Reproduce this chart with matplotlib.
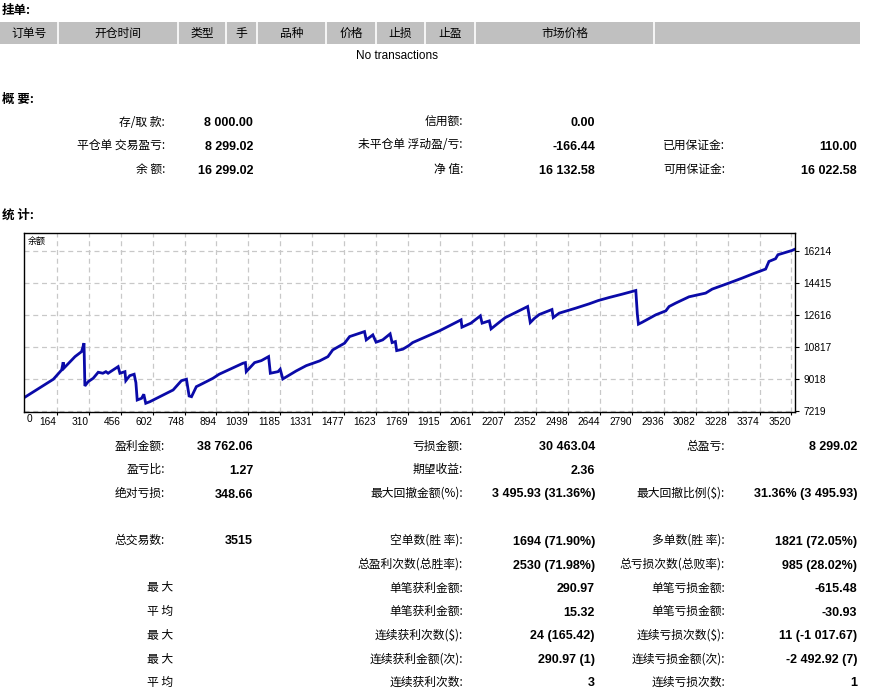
import matplotlib
matplotlib.use("Agg")
import matplotlib.pyplot as plt

W, H = 873, 692
CJK = ['Noto Sans CJK SC', 'DejaVu Sans']
NUM = ['Liberation Sans', 'DejaVu Sans']
plt.rcParams['font.family'] = CJK

# ---------------- data ----------------
order_headers = ["订单号", "开仓时间", "类型", "手", "品种", "价格", "止损", "止盈", "市场价格", ""]
no_orders_text = "No transactions"

summary_rows = [
    [("存/取 款:", "8 000.00"), ("信用额:", "0.00"), ("", "")],
    [("平仓单 交易盈亏:", "8 299.02"), ("未平仓单 浮动盈/亏:", "-166.44"), ("已用保证金:", "110.00")],
    [("余 额:", "16 299.02"), ("净 值:", "16 132.58"), ("可用保证金:", "16 022.58")],
]

stats_rows = [
    [("盈利金额:", "38 762.06"), ("亏损金额:", "30 463.04"), ("总盈亏:", "8 299.02")],
    [("盈亏比:", "1.27"), ("期望收益:", "2.36"), ("", "")],
    [("绝对亏损:", "348.66"), ("最大回撤金额(%):", "3 495.93 (31.36%)"), ("最大回撤比例($):", "31.36% (3 495.93)")],
    None,
    [("总交易数:", "3515"), ("空单数(胜 率):", "1694 (71.90%)"), ("多单数(胜 率):", "1821 (72.05%)")],
    [("", ""), ("总盈利次数(总胜率):", "2530 (71.98%)"), ("总亏损次数(总败率):", "985 (28.02%)")],
    [("最 大", ""), ("单笔获利金额:", "290.97"), ("单笔亏损金额:", "-615.48")],
    [("平 均", ""), ("单笔获利金额:", "15.32"), ("单笔亏损金额:", "-30.93")],
    [("最 大", ""), ("连续获利次数($):", "24 (165.42)"), ("连续亏损次数($):", "11 (-1 017.67)")],
    [("最 大", ""), ("连续获利金额(次):", "290.97 (1)"), ("连续亏损金额(次):", "-2 492.92 (7)")],
    [("平 均", ""), ("连续获利次数:", "3"), ("连续亏损次数:", "1")],
]

trade_no = [15, 149, 187, 194, 197, 248, 278, 289, 293, 308, 331, 354, 375, 389, 399,
            445, 453, 476, 480, 498, 518, 526, 532, 552, 562, 571, 590, 696, 734, 757,
            769, 780, 802, 818, 878, 906, 1015, 1026, 1030, 1068, 1099, 1132, 1140, 1175,
            1185, 1197, 1258, 1304, 1365, 1403, 1425, 1479, 1502, 1570, 1578, 1608, 1623,
            1653, 1687, 1696, 1711, 1717, 1745, 1772, 1790, 1912, 2011, 2015, 2056, 2099,
            2107, 2140, 2148, 2186, 2213, 2254, 2315, 2327, 2345, 2368, 2426, 2432, 2459,
            2535, 2596, 2638, 2687, 2748, 2809, 2816, 2821, 2839, 2900, 2946, 2961, 2991,
            3052, 3128, 3158, 3234, 3295, 3341, 3402, 3417, 3447, 3458, 3523, 3532]
balance = [7980, 9018, 9541, 9974, 9637, 10288, 10570, 11042, 8641, 8882, 9073, 9411,
           9355, 9444, 9355, 9726, 9355, 9444, 8939, 9220, 9299, 8827, 7854, 7949, 8174,
           7669, 7759, 8416, 8939, 9018, 8079, 8039, 8602, 8698, 9073, 9299, 9917, 9951,
           9445, 9951, 10064, 10289, 9355, 9444, 9580, 9035, 9484, 9782, 10047, 10288,
           10665, 11042, 11413, 11693, 11227, 11508, 11098, 11227, 11565, 11076, 11132,
           10626, 10705, 10907, 11076, 11733, 12352, 11941, 12166, 12576, 12166, 12295,
           11846, 12220, 12479, 12727, 13099, 12200, 12425, 12650, 12931, 12481, 12727,
           13010, 13251, 13437, 13605, 13797, 13999, 12672, 12110, 12222, 12633, 12857,
           13099, 13291, 13645, 13853, 14078, 14415, 14696, 14921, 15202, 15629, 15781,
           16006, 16248, 16299]

x_ticks = [164, 310, 456, 602, 748, 894, 1039, 1185, 1331, 1477, 1623, 1769, 1915, 2061,
           2207, 2352, 2498, 2644, 2790, 2936, 3082, 3228, 3374, 3520]
y_ticks = [7219, 9018, 10817, 12616, 14415, 16214]
chart_label = "余额"

# ---------------- figure ----------------
fig = plt.figure(figsize=(W / 100, H / 100), dpi=100)
fig.patch.set_facecolor('white')


def fx(x):
    return x / W


def fy(y):
    return 1 - y / H


def txt(x, y, s, ha='left', bold=False, size=8.5, family=CJK, color='black'):
    fig.text(fx(x), fy(y), s, ha=ha, va='center', fontsize=size,
             fontweight='bold' if bold else 'normal', family=family, color=color)


# Section: pending orders
txt(2, 10, "挂单:", bold=True, size=9)
bg = fig.add_axes([0, 0, 1, 1], zorder=-1)
bg.set_xlim(0, W)
bg.set_ylim(H, 0)
bg.axis('off')
bounds = [0, 58, 178, 226, 257, 326, 376, 425, 475, 654, 860]
bg.add_patch(plt.Rectangle((0, 22), 860, 22, facecolor='#c0c0c0', edgecolor='none'))
for b in bounds[1:-1]:
    bg.plot([b, b], [22, 44], color='white', lw=1.2)
for i, h in enumerate(order_headers):
    if h:
        txt((bounds[i] + bounds[i + 1]) / 2, 33, h, ha='center', size=8.5)
txt(397, 56, no_orders_text, ha='center', size=8.5, family=['Liberation Sans', 'DejaVu Sans'])

# Section: summary
txt(2, 99, "概 要:", bold=True, size=9)
label_x = [165, 463, 725]
value_x = [253, 595, 857]
NUM_DY = 1.5
for r, row in enumerate(summary_rows):
    y = [122, 145, 169][r]
    for c, (lab, val) in enumerate(row):
        if lab:
            txt(label_x[c], y, lab, ha='right')
        if val:
            txt(value_x[c], y + NUM_DY, val, ha='right', bold=True, size=9, family=NUM)

# Section: statistics
txt(2, 215, "统 计:", bold=True, size=9)

# Chart
ax = fig.add_axes([fx(24), fy(412), (795 - 24) / W, (412 - 233) / H])
ax.plot(trade_no, balance, color='#0a0aa8', lw=2.0, solid_joinstyle='miter')
ax.set_xlim(15, 3536)
ax.set_ylim(7180, 17226)
ax.set_xticks(x_ticks)
ax.set_xticklabels([str(v) for v in x_ticks], ha='right', fontsize=7.3,
                   family=['Liberation Sans', 'DejaVu Sans'])
ax.set_yticks(y_ticks)
ax.set_yticklabels([str(v) for v in y_ticks], fontsize=7.3,
                   family=['Liberation Sans', 'DejaVu Sans'])
ax.yaxis.tick_right()
ax.tick_params(axis='x', length=2, pad=1.5, direction='out')
ax.tick_params(axis='y', length=3, pad=3, direction='out')
ax.grid(True, color='#c8c8c8', linestyle=(0, (4, 3)), lw=0.9)
for s in ax.spines.values():
    s.set_color('black')
    s.set_linewidth(1.0)
ax.text(0.005, 0.955, chart_label, transform=ax.transAxes, fontsize=6.5, va='center', ha='left')
ax.text(0.003, -0.04, "0", transform=ax.transAxes, fontsize=7.3, va='center', ha='left',
        family=['Liberation Sans', 'DejaVu Sans'])

stat_y = [446, 469, 493, None, 540, 564, 588, 611, 635, 659, 682]
for row, y in zip(stats_rows, stat_y):
    if row is None:
        continue
    for c, (lab, val) in enumerate(row):
        if lab:
            lx = label_x[c]
            if c == 0 and not val:
                lx = 173
            txt(lx, y, lab, ha='right')
        if val:
            txt(value_x[c], y + NUM_DY, val, ha='right', bold=True, size=9, family=NUM)

fig.savefig("out.png", dpi=100, facecolor='white')
